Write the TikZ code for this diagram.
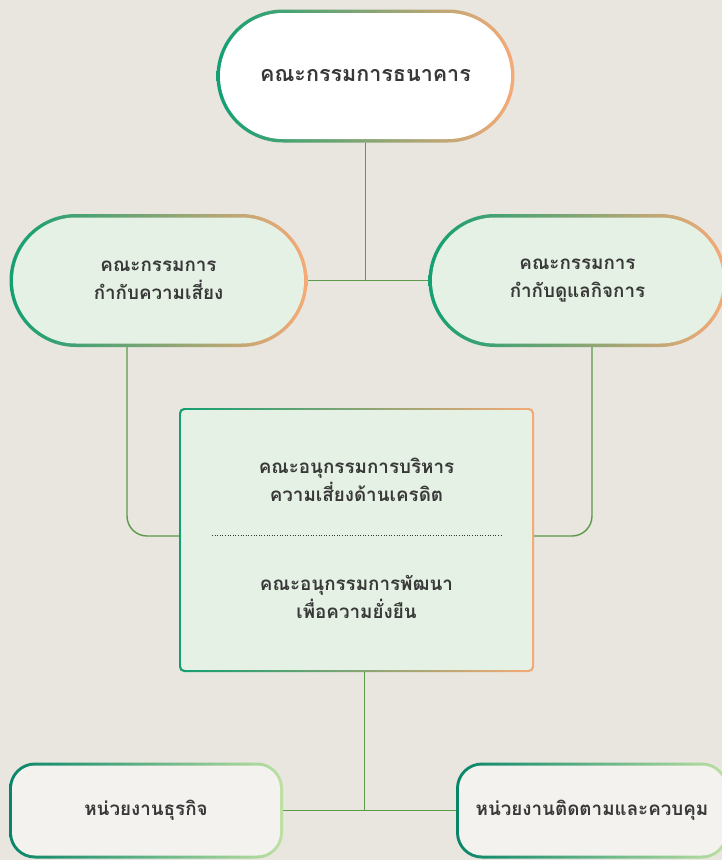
\documentclass[tikz,border=0pt]{standalone}
\usepackage{fontspec}
\newfontfamily\thaifont[Script=Thai]{Loma}
\usetikzlibrary{shapes.misc,calc}
\definecolor{bg}{HTML}{E9E6E0}
\definecolor{gA}{HTML}{12A072}
\definecolor{gB}{HTML}{F6AA76}
\definecolor{tA}{HTML}{078568}
\definecolor{tB}{HTML}{BCE0A2}
\definecolor{midfill}{HTML}{E4F1E4}
\definecolor{botfill}{HTML}{F3F2EE}
\definecolor{conncol}{HTML}{5A9A48}
\definecolor{txt}{HTML}{383838}
\begin{document}
\begin{tikzpicture}[x=1pt,y=-1pt,
  label/.style={align=center, text=txt, font=\thaifont\bfseries\fontsize{18.8}{28}\selectfont},
  bigl/.style={align=center, text=txt, font=\thaifont\bfseries\fontsize{21.5}{28}\selectfont},
  stadout/.style={rounded rectangle, inner sep=0pt, draw=none, shade, left color=gA, right color=gB, minimum width=298pt, minimum height=133pt},
  stadin/.style={rounded rectangle, inner sep=0pt, draw=none, minimum width=291pt, minimum height=126pt},
  boxout/.style={rectangle, rounded corners=5pt, inner sep=0pt, draw=none, shade, left color=gA, right color=gB, minimum width=355pt, minimum height=264pt},
  boxin/.style={rectangle, rounded corners=3.5pt, inner sep=0pt, draw=none, fill=midfill, minimum width=350.6pt, minimum height=259.6pt},
  botout/.style={rectangle, rounded corners=26pt, inner sep=0pt, draw=none, shade, left color=tA, right color=tB, minimum height=96pt},
  botin/.style={rectangle, rounded corners=23pt, inner sep=0pt, draw=none, fill=botfill, minimum height=90pt},
  conn/.style={draw=conncol, line width=1.4pt}
]
\useasboundingbox[fill=bg] (0,0) rectangle (722,860);

\coordinate (topC) at (365.5,76);
\coordinate (lmidC) at (158.5,280.5);
\coordinate (rmidC) at (577.5,280.5);
\coordinate (cboxC) at (356.5,540);
\coordinate (lbotC) at (146,810.5);
\coordinate (rbotC) at (592,810.5);

% top
\node[stadout] (top) at (topC) {};
\node[stadin, fill=white, bigl] (topT) at (topC) {คณะกรรมการธนาคาร};

% middle stadiums
\node[stadout] (lmid) at (lmidC) {};
\node[stadin, fill=midfill, label] (lmidT) at (lmidC) {คณะกรรมการ\\กำกับความเสี่ยง};
\node[stadout] (rmid) at (rmidC) {};
\node[stadin, fill=midfill, label] (rmidT) at (rmidC) {คณะกรรมการ\\กำกับดูแลกิจการ};

% center box
\node[boxout] (cbox) at (cboxC) {};
\node[boxin] (cboxT) at (cboxC) {};
\node[label] (sub1) at (356.5,480) {คณะอนุกรรมการบริหาร\\ความเสี่ยงด้านเครดิต};
\node[label] (sub2) at (356.5,597) {คณะอนุกรรมการพัฒนา\\เพื่อความยั่งยืน};
\coordinate (dotA) at (212,535);
\coordinate (dotB) at (503,535);
\draw[txt, dotted, line width=0.6pt] (dotA) -- (dotB);

% bottom
\node[botout, minimum width=274pt] (lbot) at (lbotC) {};
\node[botin, minimum width=268pt, label] (lbotT) at (lbotC) {หน่วยงานธุรกิจ};
\node[botout, minimum width=272pt] (rbot) at (rbotC) {};
\node[botin, minimum width=266pt, label] (rbotT) at (rbotC) {หน่วยงานติดตามและควบคุม};

% connectors
\draw[conn] (top.south) -- (top.south |- lmid.east);
\draw[conn] (lmid.east) -- (rmid.west);
\draw[conn, rounded corners=20pt] ([xshift=-31.5pt]lmid.south) |- ([yshift=4pt]cbox.west);
\draw[conn, rounded corners=20pt] ([xshift=14.5pt]rmid.south) |- ([yshift=4pt]cbox.east);
\draw[conn] ([xshift=8pt]cbox.south) -- ([xshift=8pt]cbox.south |- lbot.east);
\draw[conn] (lbot.east) -- (rbot.west);
\end{tikzpicture}
\end{document}
